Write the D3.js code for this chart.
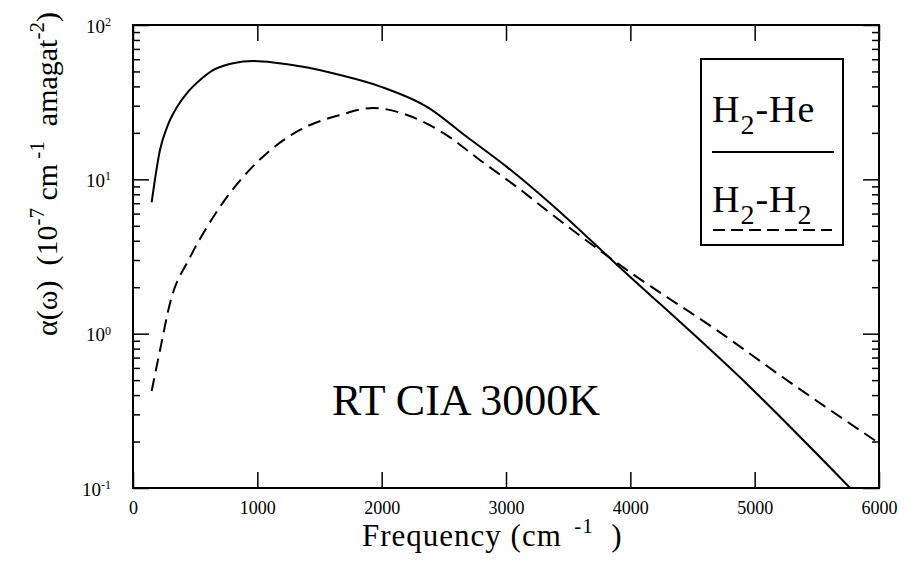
<!DOCTYPE html>
<html>
<head>
<meta charset="utf-8">
<script src="https://cdn.jsdelivr.net/npm/d3@7"></script>
<style>
body { margin: 0; background: #fff; }
svg text { font-family: "Liberation Serif", "Times New Roman", Times, "Nimbus Roman", FreeSerif, "Noto Serif", "DejaVu Serif", serif !important; fill: #000; }
.axis line { stroke: #000; stroke-width: 1.5; }
.axis .domain { display: none; }
</style>
</head>
<body>
<svg width="904" height="563"></svg>
<script>
// values
var freqHe = [150, 217, 274, 354, 434, 539, 644, 805, 965, 1343, 1665, 2003, 2365, 2687, 3009, 3355, 3894, 4964, 5768]
var alphaHe = [7.1, 15.5, 21.8, 29.4, 36.2, 44, 51, 56.6, 58.5, 54, 47.4, 39.6, 29.5, 18.8, 12.0, 7.0, 2.79, 0.45, 0.10]

var freqH2 = [150, 217, 298, 459, 595, 780, 1086, 1343, 1665, 1931, 2204, 2494, 2792, 3089, 3355, 3998, 4698, 5229, 6000]
var alphaH2 = [0.425, 0.78, 1.58, 3.13, 4.91, 8.15, 15, 20.9, 26.1, 29, 26.1, 20, 13.3, 8.9, 6.05, 2.5, 1.05, 0.52, 0.195]

var xTicks = [0, 1000, 2000, 3000, 4000, 5000, 6000]
var yMajor = [0.1, 1, 10, 100]
var yExp = ['-1', '0', '1', '2']

var margin = {top: 25, right: 25, bottom: 75, left: 133}
var width = 904 - margin.left - margin.right
var height = 563 - margin.top - margin.bottom

var x = d3.scaleLinear().domain([0, 6000]).range([0, width])
var y = d3.scaleLog().domain([0.1, 100]).range([height, 0])

var yMinor = y.ticks().filter(function (v) { return yMajor.indexOf(v) < 0 })

var svg = d3.select('svg')
var g = svg.append('g')
  .attr('transform', 'translate(' + margin.left + ',' + margin.top + ')')

// bottom axis
var gx = g.append('g').attr('class', 'axis')
  .attr('transform', 'translate(0,' + height + ')')
  .call(d3.axisBottom(x).tickValues(xTicks).tickSize(-16).tickPadding(13).tickFormat(d3.format('d')))
gx.selectAll('text').style('font-size', '18px')

// top axis
g.append('g').attr('class', 'axis')
  .call(d3.axisTop(x).tickValues(xTicks).tickSize(-16).tickFormat(''))

// left axis, major + minor
var gy = g.append('g').attr('class', 'axis')
  .call(d3.axisLeft(y).tickValues(yMajor).tickSize(-16).tickPadding(14))
gy.selectAll('text')
  .style('font-size', '19px')
  .attr('dy', '0.38em')
  .text('10')
  .append('tspan')
  .attr('dy', '-0.55em')
  .style('font-size', '12px')
  .text(function (d, i) { return yExp[i] })
gy.selectAll('text').attr('x', -22)
g.append('g').attr('class', 'axis')
  .call(d3.axisLeft(y).tickValues(yMinor).tickSize(-7).tickFormat(''))

// right axis
g.append('g').attr('class', 'axis')
  .attr('transform', 'translate(' + width + ',0)')
  .call(d3.axisRight(y).tickValues(yMajor).tickSize(-16).tickFormat(''))
g.append('g').attr('class', 'axis')
  .attr('transform', 'translate(' + width + ',0)')
  .call(d3.axisRight(y).tickValues(yMinor).tickSize(-7).tickFormat(''))

// frame
g.append('rect')
  .attr('width', width).attr('height', height)
  .attr('fill', 'none').attr('stroke', '#000').attr('stroke-width', 2)

var line = d3.line()
  .x(function (d) { return x(d[0]) })
  .y(function (d) { return y(d[1]) })
  .curve(d3.curveMonotoneX)

g.append('path')
  .datum(d3.zip(freqHe, alphaHe))
  .attr('d', line)
  .attr('fill', 'none').attr('stroke', '#000').attr('stroke-width', 2)

g.append('path')
  .datum(d3.zip(freqH2, alphaH2))
  .attr('d', line)
  .attr('fill', 'none').attr('stroke', '#000').attr('stroke-width', 2)
  .attr('stroke-dasharray', '13,7')

// annotation
svg.append('text')
  .attr('x', 332).attr('y', 415)
  .style('font-size', '44px')
  .text('RT CIA 3000K')

// legend
var leg = svg.append('g')
leg.append('rect')
  .attr('x', 701).attr('y', 59).attr('width', 142).attr('height', 186)
  .attr('fill', '#fff').attr('stroke', '#000').attr('stroke-width', 2)

var t1 = leg.append('text').attr('x', 712).attr('y', 122).style('font-size', '38px')
  .style('letter-spacing', '1px')
t1.append('tspan').text('H')
t1.append('tspan').attr('dy', 12).style('font-size', '28px').text('2')
t1.append('tspan').attr('dy', -12).text('-He')
leg.append('line').attr('x1', 712).attr('x2', 834).attr('y1', 152).attr('y2', 152)
  .attr('stroke', '#000').attr('stroke-width', 2)

var t2 = leg.append('text').attr('x', 712).attr('y', 212).style('font-size', '38px')
  .style('letter-spacing', '1px')
t2.append('tspan').text('H')
t2.append('tspan').attr('dy', 12).style('font-size', '28px').text('2')
t2.append('tspan').attr('dy', -12).text('-H')
t2.append('tspan').attr('dy', 12).style('font-size', '28px').text('2')
leg.append('line').attr('x1', 713).attr('x2', 832).attr('y1', 230).attr('y2', 230)
  .attr('stroke', '#000').attr('stroke-width', 2).attr('stroke-dasharray', '12,6')

// x label
var xl = svg.append('text').attr('x', 362).attr('y', 546).style('font-size', '31px')
  .style('white-space', 'pre').style('letter-spacing', '1px')
xl.append('tspan').text('Frequency (cm')
xl.append('tspan').attr('dy', -13).style('font-size', '21px').text('  -1')
xl.append('tspan').attr('dy', 13).text('  )')

// y label
var yl = svg.append('text')
  .attr('transform', 'translate(57,336) rotate(-90)')
  .style('font-size', '30px')
  .style('white-space', 'pre')
yl.append('tspan').text('\u03b1(\u03c9)  (10')
yl.append('tspan').attr('dy', -13).style('font-size', '21px').text('-7')
yl.append('tspan').attr('dy', 13).text(' cm')
yl.append('tspan').attr('dy', -13).style('font-size', '21px').text(' -1')
yl.append('tspan').attr('dy', 13).text('  amagat')
yl.append('tspan').attr('dy', -13).style('font-size', '21px').text('-2')
yl.append('tspan').attr('dy', 13).text(')')
</script>
</body>
</html>
